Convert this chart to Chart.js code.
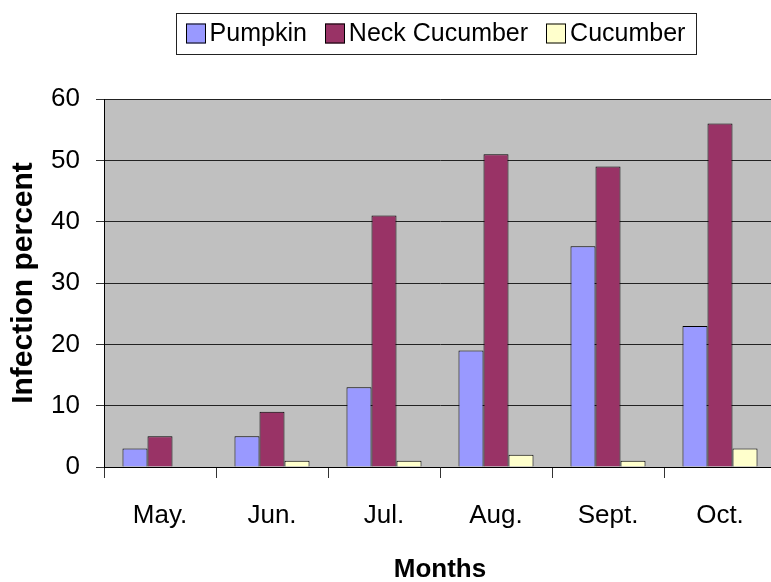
<!DOCTYPE html>
<html>
<head>
<meta charset="utf-8">
<script src="https://cdn.jsdelivr.net/npm/chart.js@4/dist/chart.umd.min.js"></script>
<style>
  html, body { margin: 0; padding: 0; background: #fff; width: 771px; height: 582px; overflow: hidden; }
  canvas { display: block; }
</style>
</head>
<body>
<canvas id="chart" width="780" height="582"></canvas>
<script>
// ==================== DATA ====================
const months = ['May.', 'Jun.', 'Jul.', 'Aug.', 'Sept.', 'Oct.'];
const pumpkin = [3, 5, 13, 19, 36, 23];
const neckCucumber = [5, 9, 41, 51, 49, 56];
const cucumber = [0, 1, 1, 2, 1, 3];
const yTicks = [0, 10, 20, 30, 40, 50, 60];

const FONT = "'Liberation Sans', Arial, sans-serif";

// gray plot area like the old spreadsheet charts
const plotBackground = {
  id: 'plotBackground',
  beforeDraw(chart) {
    const { ctx, chartArea: a } = chart;
    ctx.save();
    ctx.fillStyle = '#c0c0c0';
    ctx.fillRect(a.left, a.top, a.right - a.left, a.bottom - a.top);
    ctx.restore();
  }
};

// boxed legend drawn above the plot
const boxedLegend = {
  id: 'boxedLegend',
  afterDraw(chart) {
    const ctx = chart.ctx;
    const sets = chart.data.datasets;
    const sq = 20, gap = 4, itemGap = 18, pad = 10;
    ctx.save();
    ctx.font = '25px ' + FONT;
    const widths = sets.map(ds => ctx.measureText(ds.label).width);
    let total = widths.reduce((s, w) => s + w + sq + gap, 0) + itemGap * (sets.length - 1);
    const boxW = total + pad * 2;
    const cx = 435.5, top = 13, h = 41;
    const left = cx - boxW / 2;

    ctx.strokeStyle = '#222';
    ctx.lineWidth = 1;
    ctx.strokeRect(Math.round(left) + 0.5, top + 0.5, Math.round(boxW), h);

    let x = left + pad;
    const mid = top + h / 2;
    sets.forEach((ds, i) => {
      ctx.fillStyle = ds.backgroundColor;
      ctx.fillRect(Math.round(x), mid - sq / 2, sq, sq);
      ctx.strokeStyle = '#000';
      ctx.strokeRect(Math.round(x) + 0.5, mid - sq / 2 + 0.5, sq - 1, sq - 1);
      ctx.fillStyle = '#000';
      ctx.textBaseline = 'middle';
      ctx.fillText(ds.label, x + sq + gap, mid + 1);
      x += sq + gap + widths[i] + itemGap;
    });
    ctx.restore();
  }
};

new Chart(document.getElementById('chart'), {
  type: 'bar',
  data: {
    labels: months,
    datasets: [
      { label: 'Pumpkin', data: pumpkin, backgroundColor: '#9999ff' },
      { label: 'Neck Cucumber', data: neckCucumber, backgroundColor: '#993366' },
      { label: 'Cucumber', data: cucumber, backgroundColor: '#ffffcc' }
    ].map(ds => Object.assign(ds, {
      borderColor: '#000',
      borderWidth: 1,
      categoryPercentage: 0.67,
      barPercentage: 1
    }))
  },
  plugins: [plotBackground, boxedLegend],
  options: {
    responsive: false,
    animation: false,
    layout: { padding: { top: 99, right: 4, bottom: 0, left: 0 } },
    plugins: {
      legend: { display: false },
      tooltip: { enabled: false }
    },
    scales: {
      x: {
        grid: {
          drawOnChartArea: false,
          drawTicks: true,
          tickLength: 11,
          color: '#333'
        },
        border: { color: '#000', width: 1 },
        ticks: {
          color: '#000',
          padding: 22,
          font: { family: FONT, size: 26 }
        },
        title: {
          display: true,
          text: 'Months',
          color: '#000',
          padding: { top: 0, bottom: 0 },
          font: { family: FONT, size: 26, weight: 'bold', lineHeight: 0.9 }
        },
        afterFit: s => { s.height = 115; }
      },
      y: {
        min: yTicks[0],
        max: yTicks[yTicks.length - 1],
        grid: {
          color: '#222',
          lineWidth: 1,
          tickLength: 8,
          tickColor: '#333'
        },
        border: { color: '#000', width: 1 },
        ticks: {
          stepSize: 10,
          color: '#000',
          padding: 16,
          font: { family: FONT, size: 26 }
        },
        afterBuildTicks: s => { s.ticks = yTicks.map(v => ({ value: v })); },
        title: {
          display: true,
          text: 'Infection percent',
          color: '#000',
          padding: { top: 9, bottom: 0 },
          font: { family: FONT, size: 30, weight: 'bold', lineHeight: 1 }
        },
        afterFit: s => { s.width = 104; }
      }
    }
  }
});
</script>
</body>
</html>
